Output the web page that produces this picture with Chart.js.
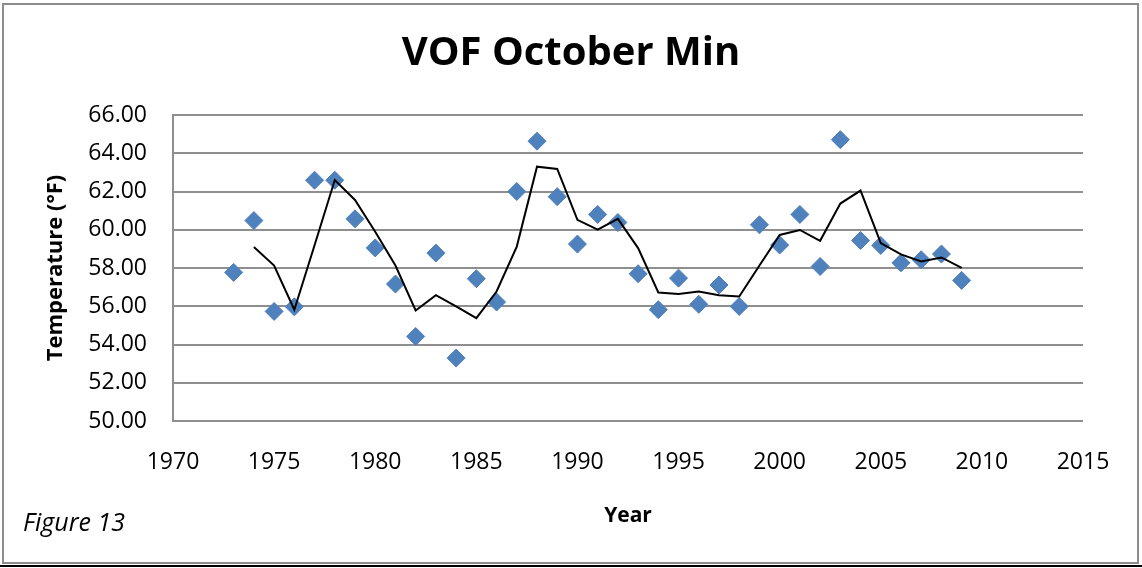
<!DOCTYPE html>
<html>
<head>
<meta charset="utf-8">
<title>VOF October Min</title>
<script src="https://cdn.jsdelivr.net/npm/chart.js@4.4.0/dist/chart.umd.min.js"></script>
<style>
  html, body { margin: 0; padding: 0; background: #fff; }
  canvas { display: block; }
</style>
</head>
<body>
<canvas id="chart" width="1142" height="568"></canvas>
<script>
// observed October minimum temperatures
const years = [1973, 1974, 1975, 1976, 1977, 1978, 1979, 1980, 1981, 1982, 1983, 1984, 1985,
    1986, 1987, 1988, 1989, 1990, 1991, 1992, 1993, 1994, 1995, 1996, 1997, 1998, 1999,
    2000, 2001, 2002, 2003, 2004, 2005, 2006, 2007, 2008, 2009];
const octoberMin = [57.77, 60.48, 55.73, 55.97, 62.59, 62.59, 60.57, 59.05, 57.16, 54.42, 58.78, 53.29, 57.44,
    56.22, 62.00, 64.63, 61.73, 59.25, 60.80, 60.38, 57.70, 55.82, 57.47, 56.10, 57.11, 55.99, 60.26,
    59.20, 60.80, 58.08, 64.71, 59.44, 59.18, 58.27, 58.43, 58.73, 57.35];

// 2 year moving average trendline
const avgYears = [1974, 1975, 1976, 1977, 1978, 1979, 1980, 1981, 1982, 1983, 1984, 1985,
    1986, 1987, 1988, 1989, 1990, 1991, 1992, 1993, 1994, 1995, 1996, 1997, 1998, 1999,
    2000, 2001, 2002, 2003, 2004, 2005, 2006, 2007, 2008, 2009];
const movingAvg = [59.10, 58.13, 55.82, 59.19, 62.60, 61.56, 59.90, 58.13, 55.78, 56.58, 55.99, 55.38,
    56.77, 59.12, 63.30, 63.18, 60.52, 60.01, 60.57, 59.04, 56.72, 56.64, 56.77, 56.58, 56.51, 58.13,
    59.73, 59.99, 59.42, 61.37, 62.05, 59.30, 58.71, 58.34, 58.55, 58.01];

const xTicks = [1970, 1975, 1980, 1985, 1990, 1995, 2000, 2005, 2010, 2015];
const yTicks = [50, 52, 54, 56, 58, 60, 62, 64, 66];

const FONT = "'Open Sans', 'Liberation Sans', sans-serif";
const GRID = '#8f8f8f';

const frame = {
    id: 'frame',
    beforeDraw(chart) {
        const ctx = chart.ctx;
        ctx.save();
        ctx.fillStyle = '#fff';
        ctx.fillRect(0, 0, chart.width, chart.height);
        ctx.strokeStyle = '#8c8c8c';
        ctx.lineWidth = 2;
        ctx.strokeRect(3, 4, 1135, 559);
        ctx.strokeStyle = '#000';
        ctx.beginPath();
        ctx.moveTo(0, 566);
        ctx.lineTo(chart.width, 566);
        ctx.stroke();
        ctx.restore();
    },
    afterDraw(chart) {
        const ctx = chart.ctx;
        ctx.save();
        ctx.fillStyle = '#000';
        ctx.textAlign = 'center';
        ctx.textBaseline = 'middle';
        ctx.font = 'bold 40px ' + FONT;
        ctx.fillText('VOF October Min', 571, 54);
        ctx.textAlign = 'left';
        ctx.font = 'italic 25px ' + FONT;
        ctx.fillText('Figure 13', 23, 524);
        ctx.restore();
    }
};

new Chart(document.getElementById('chart'), {
    type: 'scatter',
    data: {
        datasets: [{
            type: 'line',
            data: avgYears.map((y, i) => ({ x: y, y: movingAvg[i] })),
            borderColor: '#000',
            borderWidth: 2,
            pointRadius: 0,
            tension: 0,
            fill: false
        }, {
            data: years.map((y, i) => ({ x: y, y: octoberMin[i] })),
            pointStyle: 'rectRot',
            pointRadius: 9,
            backgroundColor: '#4f81bd',
            borderColor: '#4f81bd',
            borderWidth: 1
        }]
    },
    options: {
        responsive: false,
        animation: false,
        devicePixelRatio: 1,
        layout: { padding: { left: 0, right: 59, top: 115, bottom: 0 } },
        plugins: {
            legend: { display: false },
            tooltip: { enabled: false }
        },
        scales: {
            x: {
                type: 'linear',
                min: 1970,
                max: 2015,
                afterBuildTicks: axis => { axis.ticks = xTicks.map(v => ({ value: v })); },
                afterFit: axis => { axis.height = 147; },
                grid: { display: false, drawTicks: false },
                border: { display: false },
                ticks: {
                    padding: 28,
                    color: '#000',
                    font: { family: FONT, size: 23 },
                    callback: v => String(v)
                },
                title: {
                    display: true,
                    text: 'Year',
                    color: '#000',
                    font: { family: FONT, size: 21, weight: 'bold' },
                    padding: { top: 0, bottom: 39 }
                }
            },
            y: {
                min: 50,
                max: 66,
                afterBuildTicks: axis => { axis.ticks = yTicks.map(v => ({ value: v })); },
                afterFit: axis => { axis.width = 173; },
                grid: { color: GRID, lineWidth: 2, drawTicks: false },
                border: { display: true, color: GRID, width: 2 },
                ticks: {
                    padding: 26,
                    color: '#000',
                    font: { family: FONT, size: 23 },
                    callback: v => v.toFixed(2)
                },
                title: {
                    display: true,
                    text: 'Temperature (°F)',
                    color: '#000',
                    font: { family: FONT, size: 22, weight: 'bold' },
                    padding: { top: 43, bottom: 0 }
                }
            }
        }
    },
    plugins: [frame]
});
</script>
</body>
</html>
